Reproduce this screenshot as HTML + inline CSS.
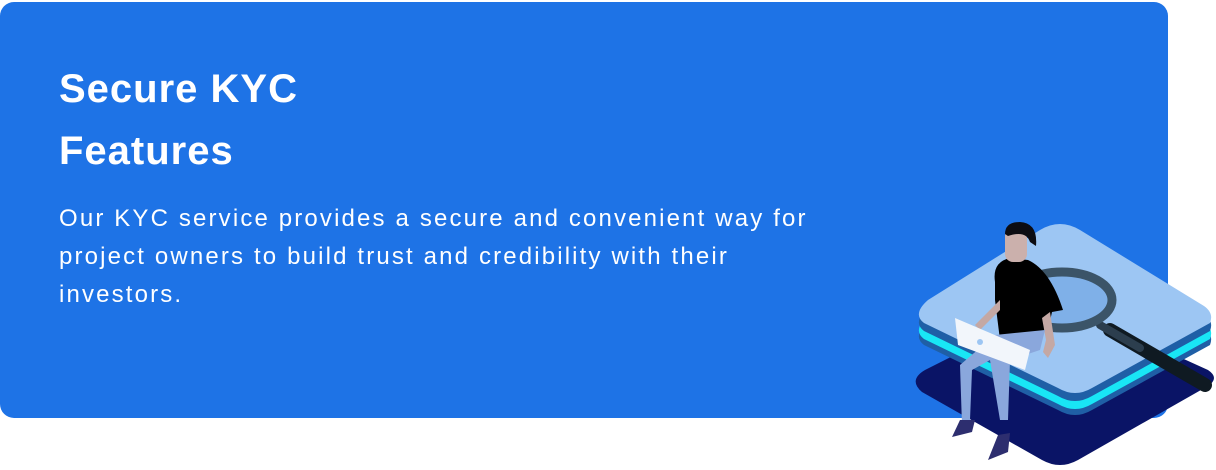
<!DOCTYPE html>
<html><head><meta charset="utf-8"><style>
html,body{margin:0;padding:0;background:#fff;width:1216px;height:470px;overflow:hidden;font-family:"Liberation Sans",sans-serif}
.card{position:absolute;left:0;top:2px;width:1168px;height:416px;background:#1e73e6;border-radius:14px}
h1{position:absolute;left:59px;top:58px;margin:0;color:#fff;font-size:40px;font-weight:700;line-height:62px;letter-spacing:1px}
p{position:absolute;left:59px;top:200px;margin:0;color:#fff;font-size:24px;line-height:38px;width:790px;letter-spacing:2.15px}
svg{position:absolute;left:0;top:0}
</style></head><body>
<div class="card"></div>
<h1>Secure KYC<br>Features</h1>
<p>Our KYC service provides a secure and convenient way for project owners to build trust and credibility with their investors.</p>
<svg width="1216" height="470" viewBox="0 0 1216 470">
<path d="M925 370 L1040 312 Q1060 302 1080 312 L1208 370 Q1220 378 1208 386 L1078 460 Q1060 470 1042 460 L922 392 Q908 380 925 370Z" fill="#0a1466"/>
<path d="M928 322 L1040 252 Q1060 240 1080 252 L1204 328 Q1214 335 1210 345 L1092 410 Q1075 420 1058 410 L924 345 Q912 336 928 322Z" fill="#1f5fa6"/>
<path d="M928 316 L1040 246 Q1060 234 1080 246 L1204 322 Q1214 329 1210 339 L1092 404 Q1075 414 1058 404 L924 339 Q912 330 928 316Z" fill="#19e6f5"/>
<path d="M928 308 L1040 238 Q1060 226 1080 238 L1204 314 Q1214 321 1210 331 L1092 396 Q1075 406 1058 396 L924 331 Q912 322 928 308Z" fill="#1f5fa6"/>
<path d="M928 300 L1040 230 Q1060 218 1080 230 L1204 306 Q1214 313 1210 323 L1092 388 Q1075 398 1058 388 L924 323 Q912 314 928 300Z" fill="#9dc6f3"/>
<line x1="1110" y1="330" x2="1205" y2="385" stroke="#0f1a22" stroke-width="14" stroke-linecap="round"/>
<line x1="1100" y1="325" x2="1140" y2="348" stroke="#2c3e4e" stroke-width="8" stroke-linecap="round"/>
<ellipse cx="1062" cy="300" rx="50" ry="28" fill="#7fb0e8" stroke="#3b5468" stroke-width="9"/>
<path d="M995 282 Q992 262 1010 258 L1028 260 Q1050 270 1063 310 L1052 312 L1048 330 L1000 340 L995 300Z" fill="#000"/>
<path d="M1000 300 L975 325 L980 330 L1000 310Z" fill="#c4a8a4"/>
<path d="M1050 312 L1055 345 L1048 358 L1043 352 L1046 340 L1042 318Z" fill="#c4a8a4"/>
<rect x="1005" y="228" width="22" height="34" rx="8" fill="#cbb0ac"/>
<path d="M1005 234 Q1005 222 1020 222 Q1038 223 1036 246 L1030 242 Q1026 230 1008 236Z" fill="#0c0c12"/>
<path d="M995 335 L1045 330 L1040 350 L1010 360 L1008 420 L1000 420 L990 360 L972 370 L970 420 L962 425 L960 365Z" fill="#8aa7dc"/>
<path d="M960 420 L975 420 L972 432 L952 437 Z" fill="#2d2e6f"/>
<path d="M998 435 L1010 433 L1008 452 L988 460 Z" fill="#2d2e6f"/>
<path d="M955 318 L1030 350 L1025 370 L958 345Z" fill="#f2f6fb"/>
<circle cx="980" cy="342" r="3" fill="#9dc6f3"/>
</svg>
</body></html>
